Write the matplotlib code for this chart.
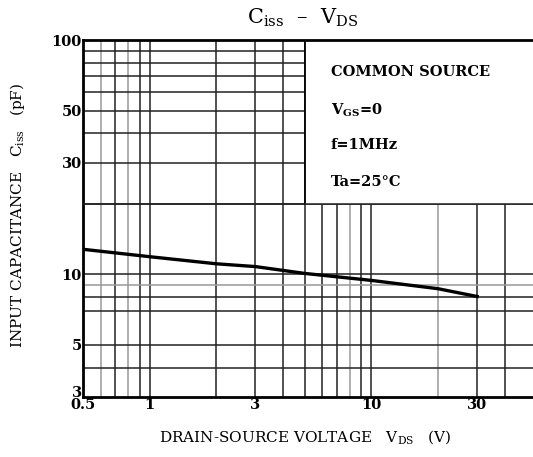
import matplotlib
matplotlib.use("Agg")
from matplotlib import pyplot as plt
from matplotlib.patches import Rectangle
from matplotlib.transforms import ScaledTranslation

# data
vds = [0.5, 1, 2, 3, 5, 10, 20, 30]
ciss = [12.8, 11.9, 11.1, 10.8, 10.1, 9.43, 8.69, 8.05]

# grid of the datasheet paper
x_grid_dark = [0.7, 0.9, 1, 2, 3, 4, 5, 6, 7, 9, 10, 30, 40]
x_grid_light = [0.6, 0.8, 8, 20]
y_grid_dark = [4, 5, 7, 8, 10, 20, 30, 40, 50, 60, 70, 80, 90]
y_grid_light = [9]
x_ticks = [0.5, 1, 3, 10, 30]
x_ticklabels = ['0.5', '1', '3', '10', '30']
y_ticks = [3, 5, 10, 30, 50, 100]
y_ticklabels = ['3', '5', '10', '30', '50', '100']

plt.rcParams['font.family'] = 'DejaVu Serif'
plt.rcParams['mathtext.fontset'] = 'custom'
plt.rcParams['mathtext.rm'] = 'DejaVu Serif'
plt.rcParams['mathtext.it'] = 'DejaVu Serif'
plt.rcParams['mathtext.bf'] = 'DejaVu Serif:bold'

fig = plt.figure(figsize=(5.33, 4.57), dpi=100)
ax = fig.add_axes([83/533, 60/457, 450/533, 357/457])
ax.set_xscale('log')
ax.set_yscale('log')
ax.set_xlim(0.5, 53.6)
ax.set_ylim(3, 100)

for x in x_grid_dark:
    ax.axvline(x, color='#222222', lw=1.1, zorder=1)
for x in x_grid_light:
    ax.axvline(x, color='#999999', lw=1.1, zorder=1)
for y in y_grid_dark:
    ax.axhline(y, color='#222222', lw=1.1, zorder=1)
for y in y_grid_light:
    ax.axhline(y, color='#999999', lw=1.1, zorder=1)

# blank box for the conditions
ax.add_patch(Rectangle((5, 20), 60, 90, facecolor='white', edgecolor='none', zorder=2))
ax.plot([5, 5], [20, 100], color='black', lw=1.3, zorder=3)
ax.axhline(20, color='#222222', lw=1.1, zorder=3)

ax.plot(vds, ciss, color='black', lw=2.4, zorder=4)

cond = dict(transform=ax.transAxes, fontsize=10.5, fontweight='bold')
ax.text(0.551, 0.899, 'COMMON SOURCE', **cond)
ax.text(0.551, 0.79, r'$\mathbf{V_{GS}}$' + '=0', **cond)
ax.text(0.551, 0.695, 'f=1MHz', **cond)
ax.text(0.551, 0.592, 'Ta=25°C', **cond)

ax.set_xticks(x_ticks)
ax.set_xticklabels(x_ticklabels, fontsize=10.5, fontweight='bold')
ax.set_yticks(y_ticks)
ax.set_yticklabels(y_ticklabels, fontsize=10.5, fontweight='bold')
ax.minorticks_off()
ax.tick_params(length=0, pad=1)
# the "3" sits a little above the "0.5" like on the datasheet
lab3 = ax.get_yticklabels()[0]
lab3.set_transform(lab3.get_transform() + ScaledTranslation(0, 4/72, fig.dpi_scale_trans))

for s in ['left', 'bottom', 'top']:
    ax.spines[s].set_linewidth(2)
ax.spines['right'].set_visible(False)

fig.text(303/533, 1 - 18/457, r'$\mathrm{C_{iss}}$  –  $\mathrm{V_{DS}}$',
         ha='center', va='center', fontsize=15)
fig.text(305/533, 1 - 437/457, r'DRAIN-SOURCE VOLTAGE   $\mathrm{V_{DS}}$   (V)',
         ha='center', va='center', fontsize=11)
fig.text(18/533, 1 - 215/457, r'INPUT CAPACITANCE   $\mathrm{C_{iss}}$   (pF)',
         ha='center', va='center', rotation=90, fontsize=11)

fig.savefig('out.png', dpi=100)
